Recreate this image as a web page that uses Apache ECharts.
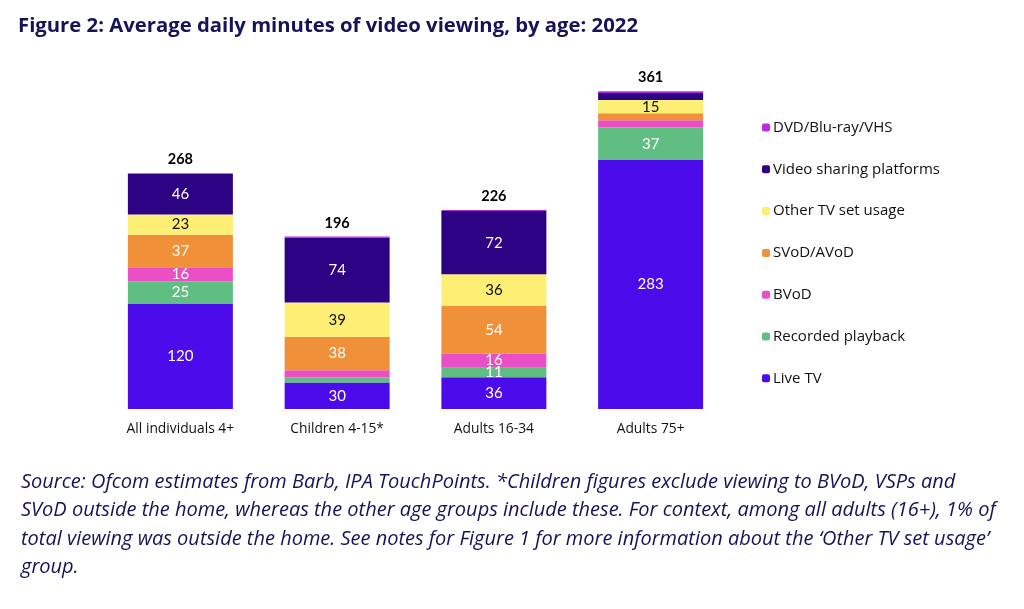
<!DOCTYPE html>
<html><head><meta charset="utf-8">
<script src="https://cdn.jsdelivr.net/npm/echarts@6/dist/echarts.min.js"></script>
<style>html,body{margin:0;padding:0;background:#fff}#c{width:1024px;height:609px}</style>
</head><body><div id="c"></div>
<script>
const categories = ['All individuals 4+', 'Children 4-15*', 'Adults 16-34', 'Adults 75+'];
const liveTV = [120, 30, 36, 283];
const recorded = [25, 6, 11, 37];
const bvod = [16, 8, 16, 8];
const svod = [37, 38, 54, 8];
const otherTV = [23, 39, 36, 15];
const vsp = [46, 74, 72, 8];
const dvd = [1, 1, 1, 2];
const totals = [268, 196, 226, 361];

const FONT = 'Lato';
const FONT2 = 'Open Sans';
const seriesDefs = [
  {name: 'Live TV', data: liveTV, color: '#4b0beb', text: '#fff'},
  {name: 'Recorded playback', data: recorded, color: '#5fbf83', text: '#fff'},
  {name: 'BVoD', data: bvod, color: '#ea4fc6', text: '#fff'},
  {name: 'SVoD/AVoD', data: svod, color: '#f09139', text: '#fff'},
  {name: 'Other TV set usage', data: otherTV, color: '#fcef74', text: '#111'},
  {name: 'Video sharing platforms', data: vsp, color: '#2d0384', text: '#fff'},
  {name: 'DVD/Blu-ray/VHS', data: dvd, color: '#b52ee2', text: '#fff'}
];
const series = seriesDefs.map(s => ({
  name: s.name, type: 'bar', stack: 'a', data: s.data, barWidth: 105,
  itemStyle: {color: s.color},
  label: {show: true, position: 'inside', color: s.text, fontFamily: FONT, fontSize: 15,
    formatter: p => p.value >= 10 ? String(p.value) : ''}
}));
series.push({
  name: 'Total', type: 'bar', stack: 'a', data: totals.map(() => 0), barWidth: 105,
  itemStyle: {color: 'transparent'},
  label: {show: true, position: 'top', distance: 6, color: '#000', fontWeight: 'bold', fontFamily: FONT, fontSize: 14.5,
    formatter: p => String(totals[p.dataIndex])}
});

const chart = echarts.init(document.getElementById('c'));
chart.setOption({
  animation: false,
  title: [
    {text: 'Figure 2: Average daily minutes of video viewing, by age: 2022', left: 13, top: 11,
     textStyle: {fontFamily: FONT2, fontWeight: 'bold', fontSize: 20.3, color: '#14145a'}},
    {text: 'Source: Ofcom estimates from Barb, IPA TouchPoints. *Children figures exclude viewing to BVoD, VSPs and\nSVoD outside the home, whereas the other age groups include these. For context, among all adults (16+), 1% of\ntotal viewing was outside the home. See notes for Figure 1 for more information about the \u2018Other TV set usage\u2019\ngroup.',
     left: 16, top: 463,
     textStyle: {fontFamily: FONT2, fontStyle: 'italic', fontWeight: 'normal', fontSize: 20, lineHeight: 28.5, color: '#14145a'}}
  ],
  legend: {
    orient: 'vertical', left: 757, top: 115, itemWidth: 8, itemHeight: 8, itemGap: 26.8,
    data: seriesDefs.map(s => s.name).reverse(),
    textStyle: {fontFamily: FONT2, fontSize: 15, color: '#111', padding: [0, 0, 0, -2]}
  },
  grid: {left: 102, right: 295, top: 57, bottom: 200},
  xAxis: {type: 'category', data: categories,
    axisLine: {show: false}, axisTick: {show: false},
    axisLabel: {color: '#111', fontFamily: FONT2, fontSize: 13.8, margin: 13}},
  yAxis: {type: 'value', min: 0, max: 400, show: false, splitLine: {show: false}},
  series
});
</script></body></html>
